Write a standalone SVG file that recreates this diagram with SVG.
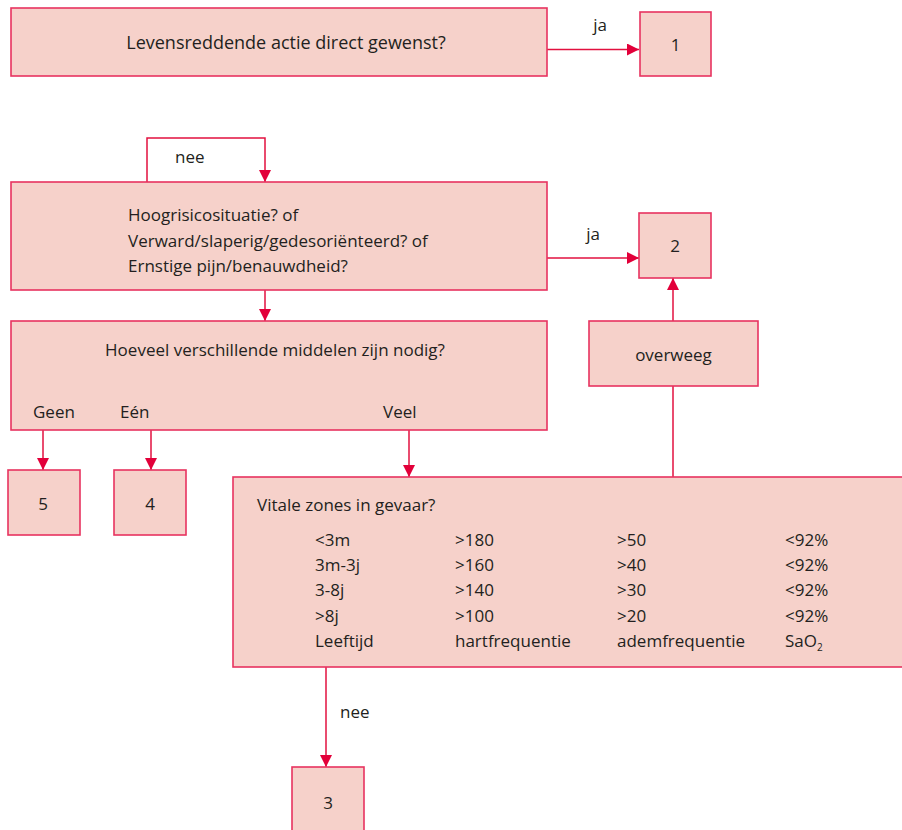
<svg xmlns="http://www.w3.org/2000/svg" width="902" height="830" viewBox="0 0 902 830">
  <style>
    .box { fill: #f6d1ca; stroke: #e8335f; stroke-width: 1.6; }
    .wire { fill: none; stroke: #e2103f; stroke-width: 1.5; }
    text { font-family: "Open Sans", "Liberation Sans", sans-serif; font-size: 17px; fill: #231f20; }
    .c { text-anchor: middle; }
  </style>
  <defs>
    <marker id="arrow" viewBox="0 0 12 12" refX="12" refY="6" markerWidth="12" markerHeight="12" markerUnits="userSpaceOnUse" orient="auto">
      <path d="M0,0 L12,6 L0,12 Z" fill="#e2003a"/>
    </marker>
  </defs>

  <rect width="902" height="830" fill="#ffffff"/>

  <g id="connectors">
    <path class="wire" d="M547,49.5 H639" marker-end="url(#arrow)"/>
    <path class="wire" d="M147,182 V138 H265 V182" marker-end="url(#arrow)"/>
    <path class="wire" d="M547,258 H639" marker-end="url(#arrow)"/>
    <path class="wire" d="M265,290 V321" marker-end="url(#arrow)"/>
    <path class="wire" d="M673,321 V278" marker-end="url(#arrow)"/>
    <path class="wire" d="M43,430 V470" marker-end="url(#arrow)"/>
    <path class="wire" d="M151,430 V470" marker-end="url(#arrow)"/>
    <path class="wire" d="M409,430 V477" marker-end="url(#arrow)"/>
    <path class="wire" d="M673,386 V477"/>
    <path class="wire" d="M326,667 V767" marker-end="url(#arrow)"/>
    <text x="600" y="31" class="c">ja</text>
    <text x="175" y="163">nee</text>
    <text x="593" y="240" class="c">ja</text>
    <text x="340" y="718">nee</text>
  </g>

  <g id="q-levensreddend">
    <rect class="box" x="11" y="8" width="536" height="68"/>
    <text x="286" y="49" class="c" style="font-size:18px">Levensreddende actie direct gewenst?</text>
  </g>

  <g id="uitkomst-1">
    <rect class="box" x="640" y="12" width="71" height="64"/>
    <text x="675.5" y="51" class="c">1</text>
  </g>

  <g id="q-hoogrisico">
    <rect class="box" x="11" y="182" width="536" height="108"/>
    <text x="128" y="221">Hoogrisicosituatie? of</text>
    <text x="128" y="247">Verward/slaperig/gedesoriënteerd? of</text>
    <text x="128" y="272">Ernstige pijn/benauwdheid?</text>
  </g>

  <g id="uitkomst-2">
    <rect class="box" x="639" y="213" width="72" height="65"/>
    <text x="675" y="252" class="c">2</text>
  </g>

  <g id="overweeg">
    <rect class="box" x="589" y="321" width="169" height="65"/>
    <text x="673.5" y="361" class="c">overweeg</text>
  </g>

  <g id="q-middelen">
    <rect class="box" x="11" y="321" width="536" height="109"/>
    <text x="275" y="356" class="c">Hoeveel verschillende middelen zijn nodig?</text>
    <text x="33" y="418">Geen</text>
    <text x="120" y="418">Eén</text>
    <text x="383" y="418">Veel</text>
  </g>

  <g id="uitkomst-5">
    <rect class="box" x="8" y="470" width="72" height="65"/>
    <text x="43" y="510" class="c">5</text>
  </g>

  <g id="uitkomst-4">
    <rect class="box" x="114" y="470" width="72" height="65"/>
    <text x="150" y="510" class="c">4</text>
  </g>

  <g id="q-vitale-zones">
    <rect class="box" x="233" y="477" width="680" height="190"/>
    <text x="257" y="511">Vitale zones in gevaar?</text>
    <text x="315" y="546">&lt;3m</text>
    <text x="455" y="546">&gt;180</text>
    <text x="617" y="546">&gt;50</text>
    <text x="785" y="546">&lt;92%</text>
    <text x="315" y="571">3m-3j</text>
    <text x="455" y="571">&gt;160</text>
    <text x="617" y="571">&gt;40</text>
    <text x="785" y="571">&lt;92%</text>
    <text x="315" y="596">3-8j</text>
    <text x="455" y="596">&gt;140</text>
    <text x="617" y="596">&gt;30</text>
    <text x="785" y="596">&lt;92%</text>
    <text x="315" y="622">&gt;8j</text>
    <text x="455" y="622">&gt;100</text>
    <text x="617" y="622">&gt;20</text>
    <text x="785" y="622">&lt;92%</text>
    <text x="315" y="647">Leeftijd</text>
    <text x="455" y="647">hartfrequentie</text>
    <text x="617" y="647">ademfrequentie</text>
    <text x="785" y="647">SaO<tspan font-size="10" dy="4">2</tspan></text>
  </g>

  <g id="uitkomst-3">
    <rect class="box" x="292" y="767" width="72" height="80"/>
    <text x="328" y="809" class="c">3</text>
  </g>
</svg>
